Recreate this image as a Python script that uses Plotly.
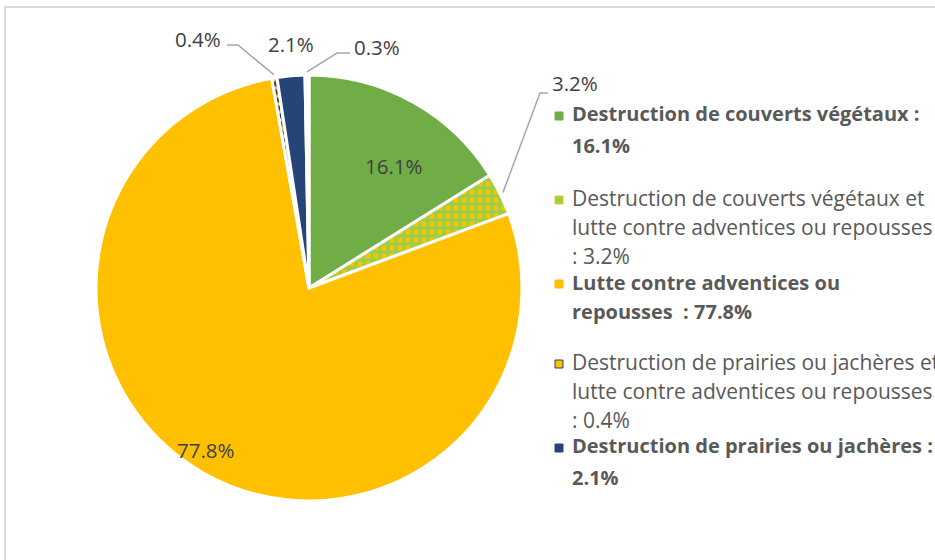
import math
import plotly.graph_objects as go

# slice data, clockwise from 12 o'clock
categories = [
    "Destruction de couverts végétaux",
    "Destruction de couverts végétaux et lutte contre adventices ou repousses",
    "Lutte contre adventices ou repousses",
    "Destruction de prairies ou jachères et lutte contre adventices ou repousses",
    "Destruction de prairies ou jachères",
    "Autre",
]
values = [16.1, 3.2, 77.8, 0.4, 2.1, 0.3]
value_labels = ["16.1%", "3.2%", "77.8%", "0.4%", "2.1%", "0.3%"]

legend_lines = [
    ["Destruction de couverts végétaux :", "16.1%"],
    ["Destruction de couverts végétaux et", "lutte contre adventices ou repousses", ": 3.2%"],
    ["Lutte contre adventices ou", "repousses  : 77.8%"],
    ["Destruction de prairies ou jachères et", "lutte contre adventices ou repousses", ": 0.4%"],
    ["Destruction de prairies ou jachères :", "2.1%"],
]
legend_bold = [True, False, True, False, True]

W, H = 935, 560
CX, CY, R = 309, 288, 213
FONT = "Open Sans"
TEXT = "#595959"
LABEL = "#404040"

GREEN = "#70AD47"
LGREEN = "#92D050"
YELLOW = "#FFC000"
NAVY = "#264478"

colors = [GREEN, YELLOW, YELLOW, YELLOW, NAVY, "#FFFFFF"]
pat_shape = ["", "+", "", "-", "", ""]
pat_fg = [GREEN, LGREEN, YELLOW, NAVY, NAVY, "#FFFFFF"]


def px(x):
    return x / W


def py(y):
    return 1 - y / H


def slice_point(i, rfac, frac=0.5):
    total = sum(values)
    start = sum(values[:i])
    ang = (start + values[i] * frac) / total * 2 * math.pi
    return CX + rfac * R * math.sin(ang), CY - rfac * R * math.cos(ang)


fig = go.Figure()

fig.add_trace(go.Pie(
    labels=categories,
    values=values,
    sort=False,
    direction="clockwise",
    rotation=0,
    textinfo="none",
    hoverinfo="label+percent",
    showlegend=False,
    marker=dict(
        colors=colors,
        line=dict(color="white", width=3),
        pattern=dict(shape=pat_shape, fgcolor=pat_fg, bgcolor=colors,
                     size=8, solidity=0.6),
    ),
    domain=dict(x=[px(CX - R), px(CX + R)], y=[py(CY + R), py(CY - R)]),
))

annotations = []
shapes = []


def label(x, y, text, anchor="center", color=LABEL, size=20.5):
    annotations.append(dict(x=px(x), y=py(y), xref="paper", yref="paper",
                            text=text, showarrow=False, xanchor=anchor, yanchor="middle",
                            font=dict(family=FONT, size=size, color=color)))


# inside labels
for i, rfac, frac in [(0, 0.7, 0.6), (2, 0.9, 0.51)]:
    x, y = slice_point(i, rfac, frac)
    label(x, y, value_labels[i])

# outside labels: (slice, elbow, line end, text pos, anchor)
outside = [
    (1, (540, 93), (548, 93), (550, 83), "left"),
    (3, (238, 45), (227, 45), (223, 39), "right"),
    (4, None, None, (291, 44), "center"),
    (5, (337, 53), (350, 53), (352, 47), "left"),
]
for i, elbow, end, tpos, anchor in outside:
    if elbow is not None:
        sx, sy = slice_point(i, 1.015)
        path = (f"M {px(sx)} {py(sy)} L {px(elbow[0])} {py(elbow[1])} "
                f"L {px(end[0])} {py(end[1])}")
        shapes.append(dict(type="path", path=path, xref="paper", yref="paper",
                           line=dict(color="#A6A6A6", width=1.5)))
    label(tpos[0], tpos[1], value_labels[i], anchor=anchor)

# legend drawn by hand
legend_y = [[114, 146], [198, 227, 256], [282, 311], [362, 391, 420], [446, 477]]
legend_sym = [
    dict(fill=GREEN, line=GREEN),
    dict(fill=LGREEN, line=YELLOW),
    dict(fill=YELLOW, line=YELLOW),
    dict(fill=YELLOW, line=NAVY),
    dict(fill=NAVY, line=NAVY),
]
for lines, ys, bold, sym in zip(legend_lines, legend_y, legend_bold, legend_sym):
    y0 = ys[0] + 2
    shapes.append(dict(type="rect", xref="paper", yref="paper",
                       x0=px(555), x1=px(563), y0=py(y0 - 4), y1=py(y0 + 4),
                       fillcolor=sym["fill"], line=dict(color=sym["line"], width=1)))
    for line, y in zip(lines, ys):
        if bold:
            label(570, y, f"<b>{line}</b>", anchor="left", color=TEXT, size=20)
        else:
            label(570, y, line, anchor="left", color=TEXT, size=21)

# chart frame
shapes.append(dict(type="rect", xref="paper", yref="paper",
                   x0=px(5), x1=1.02, y0=-0.02, y1=py(7),
                   line=dict(color="#D9D9D9", width=2), fillcolor="rgba(0,0,0,0)"))

fig.update_layout(
    width=W,
    height=H,
    margin=dict(l=0, r=0, t=0, b=0),
    paper_bgcolor="white",
    plot_bgcolor="white",
    annotations=annotations,
    shapes=shapes,
    showlegend=False,
)

fig.write_html("out.html", config={"displayModeBar": False},
               post_script="document.body.style.margin = '0px';")
